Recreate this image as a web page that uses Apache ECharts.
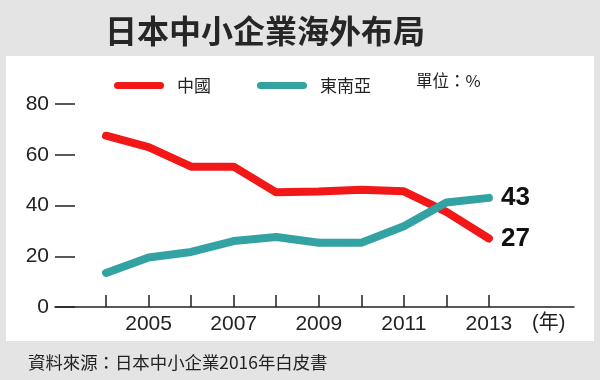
<!DOCTYPE html>
<html><head><meta charset="utf-8">
<script src="https://cdn.jsdelivr.net/npm/echarts@6/dist/echarts.min.js"></script>
<style>html,body{margin:0;padding:0;background:#e4e4e4}#c{width:600px;height:380px}</style>
</head><body><div id="c"></div>
<script>
const years = [2004, 2005, 2006, 2007, 2008, 2009, 2010, 2011, 2012, 2013];
const china = [67.5, 63, 55.3, 55.3, 45.2, 45.5, 46.2, 45.6, 37.5, 27];
const sea = [13.4, 19.5, 21.7, 26, 27.6, 25.3, 25.3, 31.8, 41.2, 43];
const xLabelYears = [2005, 2007, 2009, 2011, 2013];
const seriesNames = ['中國', '東南亞'];
const titleText = '日本中小企業海外布局';
const unitText = '單位：%';
const yearUnit = '(年)';
const sourceText = '資料來源：日本中小企業2016年白皮書';

const CJK = "'Noto Sans CJK TC', 'Liberation Sans', sans-serif";
const LAT = "'Liberation Sans', Arial, 'Noto Sans CJK TC', sans-serif";
const capsule = 'path://M3.5,0 H46.5 A3.5,3.5 0 0 1 46.5,7 H3.5 A3.5,3.5 0 0 1 3.5,0 Z';

const chart = echarts.init(document.getElementById('c'), null, {renderer: 'canvas'});
chart.setOption({
  backgroundColor: '#e4e4e4',
  animation: false,
  title: {
    text: titleText, left: 100, top: 10,
    textStyle: {fontFamily: CJK, fontSize: 32, fontWeight: 'bold', color: '#262626'}
  },
  legend: {
    left: 109, top: 72, itemWidth: 50, itemHeight: 7, itemGap: 46,
    data: [{name: seriesNames[0], icon: capsule}, {name: seriesNames[1], icon: capsule}],
    textStyle: {fontFamily: CJK, fontSize: 17, color: '#222', padding: [0, 0, 0, 8]}
  },
  graphic: [
    {type: 'rect', z: -10, shape: {x: 6, y: 56, width: 588, height: 285}, style: {fill: '#ffffff'}},
    {type: 'text', x: 416, y: 81, style: {text: unitText, fontFamily: CJK, fontSize: 16.5, fill: '#222', textVerticalAlign: 'middle'}},
    {type: 'text', x: 532, y: 323, style: {text: yearUnit, fontFamily: LAT, fontSize: 20, fill: '#222', textVerticalAlign: 'middle'}},
    {type: 'text', x: 28, y: 362, style: {text: sourceText, fontFamily: CJK, fontSize: 17.4, fill: '#222', textVerticalAlign: 'middle'}}
  ],
  grid: {left: 55, right: 26, top: 104, bottom: 73, containLabel: false},
  xAxis: {
    type: 'value', min: 2002.8, max: 2015,
    splitLine: {show: false},
    axisLine: {show: true, lineStyle: {color: '#222', width: 1.5}},
    axisTick: {show: true, inside: true, length: 12, customValues: years, lineStyle: {color: '#222', width: 1.5}},
    axisLabel: {customValues: xLabelYears, formatter: v => String(v), margin: 7, fontFamily: LAT, fontSize: 21, color: '#222'}
  },
  yAxis: {
    type: 'value', min: 0, max: 80, interval: 20,
    splitLine: {show: false},
    axisLine: {show: false},
    axisTick: {show: true, inside: true, length: 20, lineStyle: {color: '#222', width: 1.5}},
    axisLabel: {margin: 6, fontFamily: LAT, fontSize: 21, color: '#222'}
  },
  series: [
    {
      name: seriesNames[0], type: 'line', symbol: 'none',
      data: years.map((y, i) => [y, china[i]]),
      itemStyle: {color: '#f21818'},
      lineStyle: {width: 8, color: '#f21818', cap: 'round', join: 'round'},
      endLabel: {show: true, distance: 12, formatter: p => String(Math.round(p.value[1])), fontFamily: LAT, fontSize: 26, fontWeight: 'bold', color: '#111'}
    },
    {
      name: seriesNames[1], type: 'line', symbol: 'none',
      data: years.map((y, i) => [y, sea[i]]),
      itemStyle: {color: '#33a2a2'},
      lineStyle: {width: 8, color: '#33a2a2', cap: 'round', join: 'round'},
      endLabel: {show: true, distance: 12, formatter: p => String(Math.round(p.value[1])), fontFamily: LAT, fontSize: 26, fontWeight: 'bold', color: '#111'}
    }
  ]
});
</script></body></html>
